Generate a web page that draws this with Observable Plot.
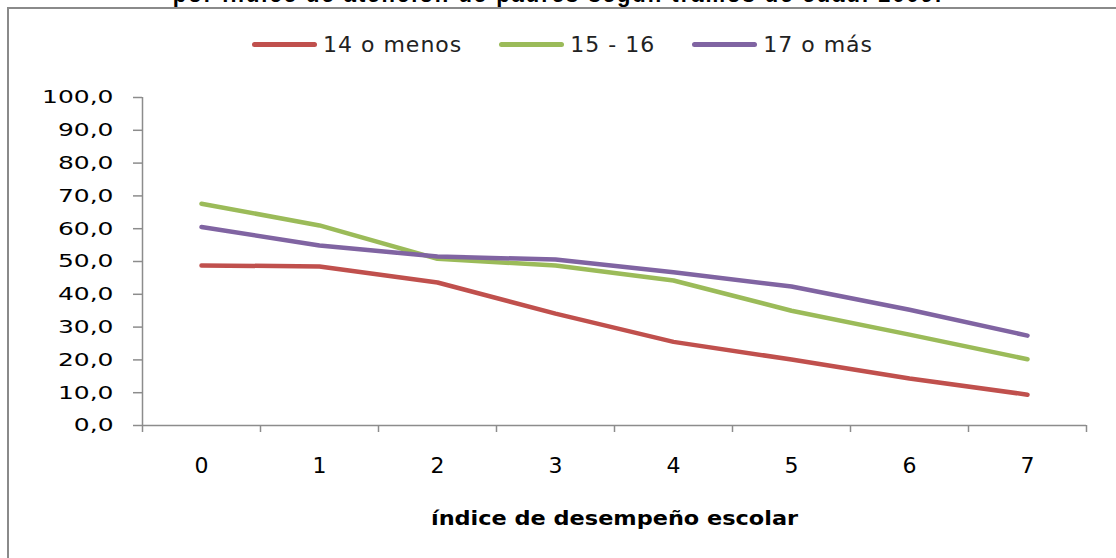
<!DOCTYPE html>
<html>
<head>
<meta charset="utf-8">
<script src="https://cdn.jsdelivr.net/npm/d3@7"></script>
<script src="https://cdn.jsdelivr.net/npm/@observablehq/plot@0.6"></script>
<style>
  html, body { margin: 0; padding: 0; background: #fff; }
  #wrap { position: relative; width: 1116px; height: 558px; overflow: hidden; background: #fff; }
  #frame { position: absolute; left: 7px; top: 7px; right: -10px; bottom: -10px;
           border-top: 2px solid #8a8a8a; border-left: 2px solid #8a8a8a; }
  #title { position: absolute; left: 0; width: 1116px; top: -16px; text-align: center;
           font-family: "Liberation Sans", Arial, sans-serif; font-weight: bold; font-size: 22px;
           line-height: 22px; letter-spacing: 2px; color: #000; white-space: nowrap; }
  #legend { position: absolute; left: 252px; top: 32px; display: flex; align-items: center; gap: 37px;
            font-family: "DejaVu Sans", sans-serif; font-size: 22px; color: #222; letter-spacing: 1px; }
  .item { display: flex; align-items: center; gap: 6px; }
  .swatch { width: 65px; height: 5px; border-radius: 2.5px; }
  #chart { position: absolute; left: 0; top: 0; }
</style>
</head>
<body>
<div id="wrap">
  <div id="title"></div>
  <div id="frame"></div>
  <div id="legend"></div>
  <div id="chart"></div>
</div>
<script>
// ---- data ----
const categories = [0, 1, 2, 3, 4, 5, 6, 7];
const seriesNames = ["14 o menos", "15 - 16", "17 o más"];
const s14OrLess = [48.8, 48.5, 43.6, 34.1, 25.5, 20.1, 14.3, 9.4];
const s15to16 = [67.6, 61.0, 50.8, 48.8, 44.2, 35.0, 27.7, 20.2];
const s17OrMore = [60.5, 54.9, 51.5, 50.6, 46.7, 42.4, 35.3, 27.4];
const seriesColors = ["#C0504D", "#9BBB59", "#8064A2"];
const yTicks = [0, 10, 20, 30, 40, 50, 60, 70, 80, 90, 100];
const titleText = "por índice de atención de padres según tramos de edad. 2009.";
const xTitle = "índice de desempeño escolar";

const seriesValues = [s14OrLess, s15to16, s17OrMore];
const table = seriesNames.flatMap((name, i) =>
  categories.map((c, j) => ({series: name, x: c, y: seriesValues[i][j]})));

document.getElementById("title").textContent = titleText;

const legend = document.getElementById("legend");
seriesNames.forEach((name, i) => {
  const item = document.createElement("div");
  item.className = "item";
  const sw = document.createElement("div");
  sw.className = "swatch";
  sw.style.background = seriesColors[i];
  const tx = document.createElement("span");
  tx.textContent = name;
  item.append(sw, tx);
  legend.append(item);
});

const gray = "#8c8c8c";
const boundaries = d3.range(categories.length + 1).map(i => categories[0] - 0.5 + i);

const chart = Plot.plot({
  width: 1116,
  height: 558,
  marginLeft: 142,
  marginRight: 30,
  marginTop: 97,
  marginBottom: 133,
  style: {background: "transparent", fontFamily: "DejaVu Sans, sans-serif", color: "#000"},
  x: {type: "linear", domain: [boundaries[0], boundaries[boundaries.length - 1]]},
  y: {domain: [0, 100]},
  color: {domain: seriesNames, range: seriesColors},
  marks: [
    Plot.ruleY([0], {stroke: gray, strokeWidth: 1.5}),
    Plot.ruleX([boundaries[0]], {stroke: gray, strokeWidth: 1.5}),
    Plot.axisY({ticks: yTicks, tickSize: 9, tickPadding: 20, stroke: gray, strokeWidth: 1.5,
      tickFormat: d => d.toFixed(1).replace(".", ","), fontSize: 18.5, label: null}),
    Plot.axisX({ticks: boundaries, tickSize: 7, stroke: gray, strokeWidth: 1.5,
      tickFormat: () => "", label: null}),
    Plot.axisX({ticks: categories, tickSize: 0, tickPadding: 32, tickFormat: d => String(d),
      fontSize: 22, label: null}),
    Plot.text([xTitle], {frameAnchor: "bottom", dy: 93, lineAnchor: "middle",
      fontSize: 20, fontWeight: "bold", fill: "#000"}),
    Plot.line(table, {x: "x", y: "y", z: "series", stroke: "series", strokeWidth: 4.5,
      strokeLinejoin: "round", strokeLinecap: "round"})
  ]
});
document.getElementById("chart").append(chart);

// widen glyphs to match the reference's horizontally stretched text
function stretch(selector, factor) {
  chart.querySelectorAll(selector).forEach(t => {
    const len = t.getComputedTextLength();
    t.setAttribute("textLength", (len * factor).toFixed(1));
    t.setAttribute("lengthAdjust", "spacingAndGlyphs");
  });
}
stretch('g[aria-label="y-axis tick label"] text', 1.35);
stretch('g[aria-label="text"] text', 1.12);
</script>
</body>
</html>
